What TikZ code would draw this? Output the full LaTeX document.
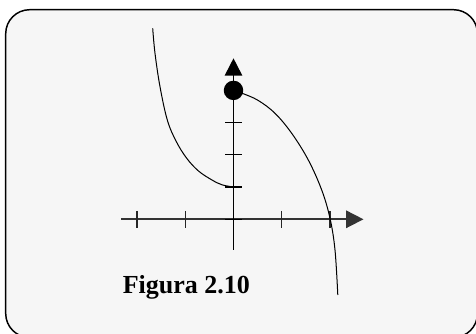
\documentclass[tikz,border=0pt]{standalone}
\usepackage{fontspec}
\setmainfont{Liberation Serif}
\usetikzlibrary{arrows.meta}
\definecolor{panel}{RGB}{246,246,246}
\tikzset{
  axisline/.style={line width=1.3pt,-{Triangle[length=13pt,width=13pt]}},
  tickline/.style={line width=1pt},
  curveline/.style={line width=0.75pt},
  caption/.style={font=\fontsize{19.5pt}{23pt}\selectfont\bfseries, inner sep=0pt, anchor=base west}
}
\begin{document}
\begin{tikzpicture}[x=0.75pt,y=-0.75pt]
\useasboundingbox (0,0) rectangle (476,334);
\draw[line width=1.1pt, fill=panel, rounded corners=18pt] (5.7,9.7) rectangle (477.5,337.5);
% axes
\coordinate (O) at (233.5,219.3);
\coordinate (xl) at (121,219.3);
\coordinate (xr) at (363.5,219.3);
\coordinate (yb) at (233.5,250);
\coordinate (yt) at (233.5,58.3);
\draw[axisline, black!80] (xl) -- (xr);
\draw[axisline] (yb) -- (yt);
% ticks on x axis
\foreach \x in {136.9,185.2,281.8,330.1}
  \draw[tickline, black!85] (\x,211) -- (\x,227.6);
% ticks on y axis
\foreach \y in {219.3,187,154.7,122.4}
  \draw[tickline] (225.2,\y) -- (241.8,\y);
% curves
\draw[curveline] plot[smooth, tension=0.6] coordinates {
  (152.7,28.3) (155,53.3) (160,86.7) (167.3,120) (176,141) (186.5,158) (198.5,171) (212,180) (222,184.8) (233.5,187)};
\draw[curveline] plot[smooth, tension=0.6] coordinates {
  (233.5,90.4) (243,93.6) (258.3,100.5) (275,113.3) (291.7,133.3) (308.3,160) (321.7,190) (330,218.3) (335,250) (337.8,295)};
% dot
\node[circle, fill=black, inner sep=0pt, minimum size=14.6pt] (dot) at (233.5,90.4) {};
% caption
\node[caption] (cap) at (122.5,293.3) {Figura 2.10};
\end{tikzpicture}
\end{document}
